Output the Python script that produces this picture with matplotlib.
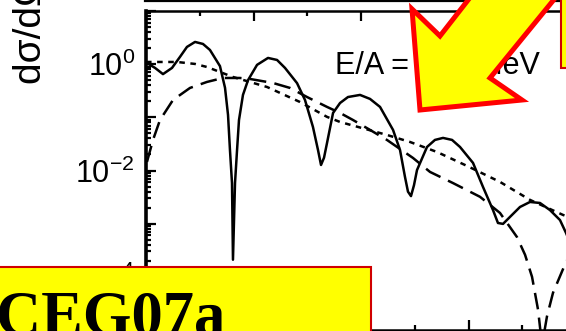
import matplotlib
matplotlib.use('Agg')
import matplotlib.pyplot as plt
import numpy as np
from matplotlib.patches import Polygon, Rectangle
from matplotlib.lines import Line2D
from matplotlib.ticker import LogLocator, MultipleLocator, FuncFormatter, NullFormatter
from matplotlib import font_manager

# ---------------- data ----------------
theta_solid = [0.09, 0.84, 1.58, 2.42, 3.16, 3.81, 4.56, 5.30, 5.95, 6.88, 7.35, 7.63, 7.81, 8.0, 8.09,
               8.28, 8.47, 8.65, 9.02, 9.49, 10.33, 11.35, 12.19, 12.93, 14.05, 14.79, 15.53, 16.0,
               16.28, 16.56, 16.84, 17.40, 18.05, 18.79, 19.91, 20.84, 21.77, 22.98, 23.63, 24.09,
               24.37, 24.65, 24.93, 25.21, 26.14, 26.88, 27.63, 28.47, 29.21, 30.42, 31.35, 32.28,
               32.74, 33.21, 33.86, 34.79, 35.72, 36.65, 37.58, 38.51, 39.07, 39.91]
sigma_solid = [1.05, 0.85, 0.65, 0.85, 1.37, 2.11, 2.62, 2.40, 1.85, 0.92, 0.36, 0.111, 0.0243, 0.0058,
               2.1e-4, 0.0058, 0.0243, 0.089, 0.264, 0.50, 0.97, 1.31, 1.20, 0.85, 0.44, 0.212, 0.066,
               0.0243, 0.0127, 0.0174, 0.033, 0.121, 0.186, 0.241, 0.264, 0.222, 0.157, 0.058, 0.0243,
               0.0076, 0.0040, 0.0033, 0.0053, 0.0102, 0.0277, 0.0376, 0.041, 0.0376, 0.0277, 0.0139,
               0.0049, 0.0018, 0.00103, 0.00099, 0.00134, 0.00206, 0.00256, 0.00245, 0.0018, 0.00117,
               6.7e-4, 2.6e-4]

theta_dotted = [0.0, 2.88, 4.56, 5.67, 8.09, 11.26, 14.33, 16.84, 18.05, 22.42, 24.56, 27.07, 29.86,
                32.93, 35.72, 38.79, 40.37]
sigma_dotted = [1.10, 1.10, 1.01, 0.885, 0.574, 0.372, 0.194, 0.102, 0.0818, 0.0466, 0.0344, 0.0223,
                0.0122, 0.0061, 0.0028, 0.00146, 0.00112]

theta_dashed = [0.09, 0.65, 1.30, 2.51, 4.09, 5.67, 7.16, 8.74, 9.67, 11.81, 13.40, 14.98, 16.84, 18.05,
                19.26, 20.84, 22.42, 24.84, 26.42, 28.56, 31.07, 32.93, 34.51, 35.26, 35.91, 36.47,
                36.84, 37.30, 37.86, 39.07, 40.37]
sigma_dashed = [0.0145, 0.0375, 0.089, 0.212, 0.357, 0.463, 0.55, 0.55, 0.527, 0.443, 0.357, 0.241,
                0.157, 0.121, 0.089, 0.058, 0.0375, 0.0172, 0.0094, 0.0058, 0.0032, 0.00159, 5.6e-4,
                2.6e-4, 1.0e-4, 2.4e-5, 5.2e-6, 1.8e-5, 5.0e-5, 1.9e-4, 4.9e-4]

ylabel_text = "dσ/dΩ (mb/sr)"
energy_text = "E/A = 100 MeV"
stamp_text = "CEG07a"

# ---------------- fonts ----------------
def have(name):
    try:
        font_manager.findfont(name, fallback_to_default=False)
        return True
    except Exception:
        return False

tick_font = 'Liberation Sans Narrow' if have('Liberation Sans Narrow') else 'Liberation Sans'
plt.rcParams['font.family'] = ['Liberation Sans', 'DejaVu Sans']
plt.rcParams['mathtext.fontset'] = 'custom'
plt.rcParams['mathtext.rm'] = tick_font
plt.rcParams['mathtext.it'] = tick_font
plt.rcParams['mathtext.bf'] = tick_font
plt.rcParams['mathtext.sf'] = tick_font
plt.rcParams['lines.scale_dashes'] = False

W, H = 566, 331
fig = plt.figure(figsize=(W / 100, H / 100), dpi=100)
fig.patch.set_facecolor('white')

def fx(px):
    return px / W

def fy(py):
    return 1 - py / H

ax = fig.add_axes([fx(146), fy(330), 45 * 10.75 / W, (330 - 11) / H])
ax.set_yscale('log')
ax.set_xlim(0, 45)
ax.set_ylim(1e-5, 1e1)

ax.plot(theta_solid, sigma_solid, color='black', lw=1.8, solid_joinstyle='round')
ax.plot(theta_dotted, sigma_dotted, color='black', lw=1.8, dashes=(4, 4))
ax.plot(theta_dashed, sigma_dashed, color='black', lw=1.8, dashes=(12, 6))

ax.yaxis.set_major_locator(LogLocator(base=10, numticks=20))
ax.yaxis.set_minor_locator(LogLocator(base=10, subs=np.arange(2, 10), numticks=20))

def yfmt(v, pos):
    e = int(round(np.log10(v)))
    if e % 2 == 0:
        return r'$10^{%d}$' % e
    return ''

ax.yaxis.set_major_formatter(FuncFormatter(yfmt))
ax.yaxis.set_minor_formatter(NullFormatter())
ax.xaxis.set_major_locator(MultipleLocator(10))
ax.xaxis.set_minor_locator(MultipleLocator(5))

ax.tick_params(which='both', direction='in', top=True, right=False, labelbottom=False,
               width=1.6, color='black')
ax.tick_params(which='major', length=7.5)
ax.tick_params(which='minor', length=3.8)
ax.tick_params(axis='y', which='major', labelsize=22, pad=8)
for lab in ax.get_yticklabels():
    lab.set_family(tick_font)

for s in ['top', 'bottom']:
    ax.spines[s].set_linewidth(1.8)
ax.spines['left'].set_linewidth(2.6)

# energy label
fig.text(fx(335), fy(74), energy_text, fontsize=22, ha='left', va='baseline',
         family=['Liberation Sans', 'DejaVu Sans'])

# y-axis label (cut off at the top)
fig.text(fx(31), fy(84), ylabel_text, fontsize=28, rotation=90, ha='center', va='bottom',
         family=['Liberation Sans', 'DejaVu Sans'])

# bottom line of the panel above
fig.add_artist(Line2D([fx(145), fx(570)], [fy(1), fy(1)], transform=fig.transFigure,
                      color='black', lw=1.6))

# top-right yellow box
fig.add_artist(Rectangle((fx(561), fy(68)), fx(40), 80 / H, transform=fig.transFigure,
                         facecolor='#ffff00', edgecolor='#d00000', lw=1.5, zorder=5))

# yellow arrow
arrow_px = [(420, 110), (412, 9), (440, 36), (479, -14), (565, -14), (490, 78), (522, 100)]
arrow = Polygon([(fx(x), fy(y)) for x, y in arrow_px], closed=True, transform=fig.transFigure,
                facecolor='#ffff00', edgecolor='#ff0000', lw=3.6, joinstyle='miter', zorder=6)
fig.add_artist(arrow)

# bottom-left yellow stamp
fig.add_artist(Rectangle((fx(-10), fy(345)), fx(381), 78 / H, transform=fig.transFigure,
                         facecolor='#ffff00', edgecolor='#d00000', lw=1.5, zorder=7))
fig.text(fx(-4), fy(335), stamp_text, fontsize=45, fontweight='bold', ha='left', va='baseline',
         family=['Liberation Serif', 'DejaVu Serif'], color='black', zorder=8)

fig.savefig('out.png', dpi=100)
